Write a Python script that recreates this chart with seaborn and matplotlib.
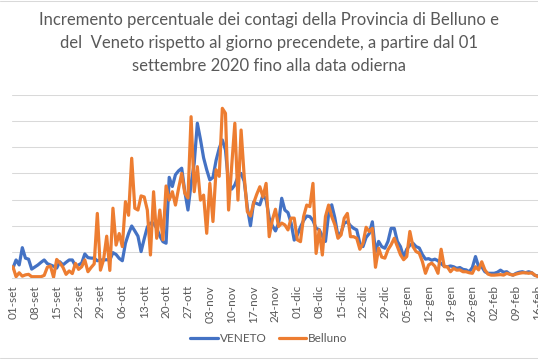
import matplotlib
matplotlib.use("Agg")
import matplotlib.pyplot as plt
import numpy as np
import pandas as pd
import seaborn as sns

# daily % increase of cases, 01-set-2020 .. 16-feb-2021
veneto = [
    0.38, 0.69, 0.50, 1.16, 0.76, 0.72, 0.34, 0.42, 0.50, 0.60,
    0.69, 0.55, 0.50, 0.45, 0.38, 0.62, 0.50, 0.60, 0.69, 0.69,
    0.46, 0.50, 0.57, 0.92, 0.78, 0.76, 0.76, 0.66, 0.69, 0.69,
    0.70, 0.69, 0.97, 0.90, 0.75, 0.66, 1.33, 1.70, 1.99, 1.80,
    1.60, 1.01, 1.50, 1.95, 2.10, 2.10, 1.90, 1.60, 1.39, 1.33,
    3.85, 3.50, 3.95, 4.10, 4.20, 3.30, 2.60, 3.60, 4.39, 5.92,
    5.30, 4.60, 4.14, 3.75, 3.85, 4.50, 4.96, 5.28, 4.90, 3.60,
    3.40, 3.56, 3.88, 4.00, 3.70, 2.70, 2.00, 2.90, 2.85, 2.80,
    3.17, 3.00, 2.30, 2.00, 1.80, 2.10, 3.05, 2.60, 2.50, 2.10,
    1.45, 1.65, 1.95, 2.20, 2.37, 2.35, 2.20, 1.90, 1.85, 1.60,
    1.40, 2.45, 2.80, 2.30, 1.60, 1.75, 2.10, 2.15, 2.00, 1.90,
    1.84, 1.33, 1.20, 1.55, 1.70, 2.15, 1.00, 1.40, 1.20, 1.14,
    1.40, 1.90, 1.90, 1.40, 1.20, 0.80, 1.10, 1.25, 1.33, 1.20,
    1.15, 0.90, 0.72, 0.74, 0.68, 0.72, 0.66, 0.55, 0.45, 0.43,
    0.46, 0.43, 0.37, 0.40, 0.33, 0.31, 0.24, 0.40, 0.82, 0.43,
    0.43, 0.24, 0.18, 0.18, 0.18, 0.22, 0.30, 0.22, 0.24, 0.15,
    0.11, 0.18, 0.22, 0.24, 0.20, 0.24, 0.20, 0.10, 0.08,
]
belluno = [
    0.43, 0.05, 0.20, 0.07, 0.12, 0.14, 0.05, 0.05, 0.05, 0.05,
    0.10, 0.41, 0.46, 0.03, 0.71, 0.58, 0.41, 0.14, 0.27, 0.17,
    0.56, 0.33, 0.43, 0.69, 0.24, 0.40, 0.54, 2.47, 0.30, 0.70,
    1.60, 0.29, 2.67, 1.26, 1.70, 1.20, 2.92, 2.40, 4.58, 2.67,
    2.60, 3.14, 3.10, 2.60, 0.88, 3.30, 1.52, 2.60, 1.46, 3.52,
    2.98, 3.30, 2.79, 3.43, 4.00, 3.24, 3.06, 6.17, 3.30, 4.26,
    2.98, 3.17, 1.71, 3.62, 2.16, 4.14, 3.89, 6.49, 6.30, 2.60,
    4.30, 5.92, 2.98, 5.66, 3.88, 2.54, 2.37, 2.86, 3.20, 3.49,
    3.10, 3.62, 1.58, 2.22, 2.63, 1.97, 2.10, 2.03, 1.84, 2.29,
    2.29, 1.46, 1.39, 2.35, 2.79, 2.73, 3.62, 0.94, 1.84, 0.88,
    2.35, 2.79, 2.35, 2.04, 1.52, 1.65, 2.29, 2.47, 1.58, 1.58,
    1.52, 1.10, 1.33, 1.94, 1.78, 1.90, 0.41, 1.14, 0.80, 0.76,
    1.08, 1.27, 1.52, 1.20, 0.89, 0.70, 0.82, 1.78, 1.20, 1.01,
    0.95, 0.63, 0.18, 0.50, 0.57, 0.45, 0.18, 1.10, 0.43, 0.43,
    0.24, 0.37, 0.30, 0.31, 0.24, 0.24, 0.20, 0.18, 0.43, 0.31,
    0.62, 0.31, 0.15, 0.11, 0.11, 0.12, 0.13, 0.11, 0.18, 0.14,
    0.11, 0.15, 0.18, 0.20, 0.20, 0.18, 0.20, 0.11, 0.05,
]
tick_labels = [
    "01-set", "08-set", "15-set", "22-set", "29-set", "06-ott", "13-ott",
    "20-ott", "27-ott", "03-nov", "10-nov", "17-nov", "24-nov", "01-dic",
    "08-dic", "15-dic", "22-dic", "29-dic", "05-gen", "12-gen", "19-gen",
    "26-gen", "02-feb", "09-feb", "16-feb",
]
series_names = ["VENETO", "Belluno"]
colors = {"VENETO": "#4472C4", "Belluno": "#ED7D31"}

n = len(veneto)
days = np.arange(n)
df = pd.DataFrame({
    "day": np.concatenate([days, days]),
    "value": veneto + belluno,
    "serie": [series_names[0]] * n + [series_names[1]] * len(belluno),
})

sns.set_theme(style="white")
plt.rcParams["font.family"] = ["Lato", "DejaVu Sans"]

W, H = 538, 359
fig = plt.figure(figsize=(W / 100, H / 100), dpi=100)
ax = fig.add_axes([12 / W, 1 - 278 / H, 526 / W, (278 - 95) / H])

sns.lineplot(data=df, x="day", y="value", hue="serie", hue_order=series_names,
             palette=colors, linewidth=2.3, ax=ax, legend=False)
for ln in ax.lines:
    ln.set_solid_joinstyle("round")
    ln.set_solid_capstyle("round")

ax.set_xlim(-0.3, n - 1)
ax.set_ylim(0, 7)
ax.set_yticks(range(0, 8))
ax.set_yticklabels([])
ax.tick_params(axis="y", length=0)
ax.set_xticks(days[::7])
ax.set_xticklabels(tick_labels, rotation=90)
ax.tick_params(axis="x", length=3, width=0.75, color="#d9d9d9",
               labelsize=8.5, labelcolor="#595959", pad=2)
ax.grid(axis="y", color="#d9d9d9", linewidth=0.75)
ax.grid(axis="x", visible=False)
ax.set_xlabel("")
ax.set_ylabel("")
for side in ["left", "right", "top"]:
    ax.spines[side].set_visible(False)
ax.spines["bottom"].set_color("#d9d9d9")
ax.spines["bottom"].set_linewidth(0.75)

fig.text(0.5, 1 - 43 / H,
         "Incremento percentuale dei contagi della Provincia di Belluno e\n"
         "del  Veneto rispetto al giorno precendete, a partire dal 01\n"
         "settembre 2020 fino alla data odierna",
         ha="center", va="center", fontsize=12, color="#595959",
         linespacing=1.55)

fig.legend(ax.lines, series_names, loc="center",
           bbox_to_anchor=(0.5, 1 - 339 / H), ncol=2, frameon=False,
           fontsize=8.5, handlelength=2.3, handletextpad=0.2,
           columnspacing=1.0, labelcolor="#595959")

# chart area border lines (top and bottom)
for yy in [1 - 0.5 / H, 1 - 357.5 / H]:
    fig.add_artist(plt.Line2D([0, 1], [yy, yy], color="#d9d9d9",
                              linewidth=0.75, transform=fig.transFigure))

fig.savefig("out.png", dpi=100)
